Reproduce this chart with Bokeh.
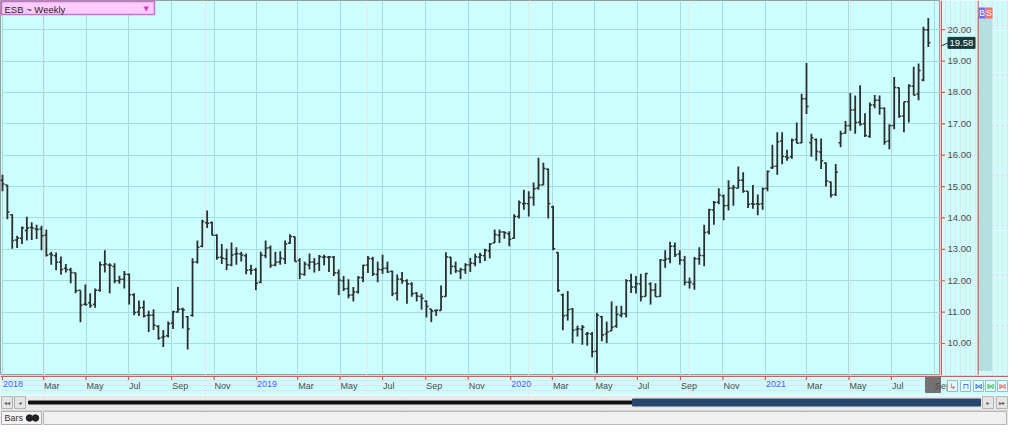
import pandas as pd
from bokeh.plotting import figure
from bokeh.models import (Range1d, FixedTicker, Label, Grid, BoxAnnotation, ColumnDataSource)
from bokeh.layouts import column, row
from bokeh.embed import file_html
from bokeh.resources import INLINE
from bokeh.core.properties import value

# ---------------- data (weekly OHLC, ESB) ----------------
first_week = "2018-01-01"
opens = [15.20,15.05,14.10,13.30,13.35,13.60,13.70,13.65,13.65,13.45,
         12.85,12.80,12.60,12.40,12.35,12.25,11.70,11.25,11.30,11.25,
         11.70,12.50,12.50,12.45,12.00,12.05,12.20,11.55,11.00,11.15,
         10.90,10.90,10.55,10.20,10.25,10.65,11.00,11.10,10.85,10.90,
         12.60,13.10,13.85,13.85,13.45,12.75,12.70,12.50,12.85,12.85,
         12.80,12.35,12.35,11.95,12.80,13.05,12.50,12.60,12.70,13.20,
         13.40,12.65,12.20,12.50,12.60,12.55,12.75,12.75,12.75,12.25,
         12.00,11.75,11.55,11.65,12.10,12.50,12.70,12.20,12.35,12.40,
         12.30,11.60,12.05,12.00,11.90,11.60,11.50,11.35,11.10,11.05,
         11.05,11.50,12.75,12.45,12.30,12.35,12.50,12.55,12.75,12.80,
         12.95,13.20,13.45,13.55,13.50,13.35,14.05,14.45,14.45,14.65,
         14.95,15.05,15.55,14.35,12.90,11.55,10.90,11.10,10.45,10.45,
         10.30,10.30,9.75,10.85,10.30,10.40,10.55,10.90,10.95,12.00,
         11.80,11.90,11.50,11.90,11.70,11.50,12.65,12.70,13.10,12.85,
         12.65,11.95,11.90,12.70,12.80,13.55,14.25,14.50,14.70,14.40,
         14.95,14.95,15.20,14.85,14.45,14.45,14.45,14.95,15.60,15.65,
         16.45,15.95,15.95,16.50,16.40,17.80,16.40,16.50,16.10,15.75,
         15.15,14.75,16.40,16.70,16.95,17.45,17.05,17.00,16.60,17.60,
         17.75,17.50,16.45,16.95,18.15,17.25,17.70,18.20,17.95,18.40,
         20.00]
highs = [15.38,15.05,14.12,13.43,13.73,14.04,13.86,13.78,13.75,13.63,
         12.92,12.90,12.77,12.53,12.41,12.26,11.70,11.88,11.60,11.75,
         12.61,12.97,12.56,12.56,12.16,12.31,12.23,11.60,11.37,11.37,
         11.04,11.09,10.58,10.43,10.70,11.04,11.80,11.14,10.88,12.72,
         13.28,13.94,14.24,13.89,13.48,13.17,13.02,13.22,13.07,12.92,
         12.87,12.51,12.41,12.92,13.28,13.12,12.92,12.94,13.28,13.48,
         13.41,12.72,12.61,12.87,12.72,12.82,12.83,12.79,12.79,12.36,
         12.15,12.05,11.80,12.15,12.51,12.79,12.76,12.61,12.83,12.61,
         12.32,12.20,12.28,12.05,11.95,11.64,11.59,11.37,11.10,11.08,
         11.85,12.91,12.76,12.61,12.41,12.56,12.73,12.86,12.89,13.02,
         13.20,13.63,13.63,13.58,13.58,14.12,14.56,14.90,14.85,15.13,
         15.92,15.76,15.58,14.39,12.91,11.59,11.67,11.13,10.57,10.59,
         10.37,10.37,10.98,10.88,10.70,11.34,11.20,11.20,12.05,12.22,
         12.15,12.22,12.25,11.95,11.92,12.69,12.97,13.24,13.22,12.97,
         12.79,12.10,12.76,13.07,13.78,14.29,14.54,14.95,14.75,15.20,
         15.05,15.64,15.46,14.85,15.05,14.75,14.97,15.51,16.33,16.73,
         16.73,16.17,16.53,17.04,17.96,18.94,16.68,16.53,16.53,15.77,
         15.16,15.72,16.78,17.09,17.98,17.90,18.23,17.34,17.68,17.92,
         17.90,17.52,16.99,18.49,18.16,17.70,18.26,18.82,18.92,20.09,
         20.37]
lows = [14.85,13.96,13.02,13.04,13.17,13.28,13.30,13.33,12.97,12.77,
        12.51,12.33,12.19,12.26,11.92,11.60,10.68,11.21,11.14,11.14,
        11.65,12.26,11.60,11.92,11.90,11.75,11.24,10.90,10.88,10.83,
        10.37,10.43,10.12,9.89,10.19,10.46,10.98,10.48,9.81,10.85,
        12.55,13.07,13.68,13.45,12.67,12.53,12.33,12.46,12.51,12.61,
        12.21,12.19,11.70,11.92,12.72,12.41,12.46,12.51,12.53,13.17,
        12.61,12.05,12.16,12.36,12.26,12.31,12.49,12.28,12.15,11.54,
        11.67,11.44,11.34,11.59,11.95,12.25,12.15,11.95,12.22,12.25,
        11.51,11.37,11.90,11.27,11.49,11.34,11.08,10.83,10.68,10.88,
        11.05,11.49,12.20,12.25,12.05,12.22,12.28,12.46,12.56,12.63,
        12.71,13.20,13.20,13.34,13.10,13.34,13.98,14.26,14.05,14.39,
        14.90,15.05,13.98,12.97,11.64,10.42,10.73,10.01,10.22,9.96,
        9.93,9.56,9.05,10.07,10.01,10.40,10.50,10.83,10.83,11.61,
        11.59,11.34,11.50,11.24,11.49,11.49,12.41,12.56,12.76,12.51,
        11.85,11.75,11.71,12.51,12.46,13.47,13.78,14.44,13.93,14.24,
        14.39,14.95,14.80,14.32,14.29,14.09,14.26,14.85,15.56,15.38,
        15.71,15.82,15.89,16.38,16.38,17.31,15.95,15.82,15.56,15.00,
        14.65,14.70,16.25,16.68,16.78,16.68,16.94,16.58,16.56,17.50,
        17.29,16.33,16.19,16.83,17.19,16.73,17.04,17.90,17.75,18.36,
        19.45]
closes = [15.08,14.19,13.28,13.36,13.68,13.68,13.68,13.63,13.43,12.82,
          12.82,12.59,12.36,12.36,12.26,11.68,11.22,11.24,11.21,11.70,
          12.51,12.53,12.49,12.00,12.05,12.21,11.55,10.99,11.14,10.88,
          10.90,10.58,10.17,10.22,10.63,11.01,11.09,11.07,10.46,12.59,
          13.07,13.89,13.83,13.45,12.74,12.72,12.51,12.82,12.87,12.82,
          12.33,12.33,11.92,12.82,13.04,12.49,12.59,12.72,13.17,13.41,
          12.61,12.21,12.53,12.59,12.53,12.77,12.76,12.76,12.25,12.02,
          11.74,11.54,11.64,12.10,12.49,12.71,12.22,12.36,12.39,12.28,
          11.59,12.05,12.00,11.90,11.59,11.51,11.44,11.18,11.03,11.06,
          11.49,12.76,12.46,12.32,12.36,12.51,12.56,12.76,12.81,12.97,
          13.17,13.47,13.55,13.53,13.32,14.05,14.49,14.46,14.65,14.93,
          15.05,15.58,14.46,13.02,11.69,10.88,11.08,10.42,10.47,10.52,
          10.32,9.74,10.90,10.27,10.37,10.52,10.93,10.95,12.00,11.80,
          11.90,11.49,12.23,11.70,11.49,12.66,12.69,13.10,12.83,12.66,
          11.95,11.95,12.70,12.81,13.54,14.26,14.49,14.73,14.39,14.95,
          14.97,15.20,14.85,14.44,14.44,14.44,14.93,15.48,15.64,16.43,
          15.97,15.92,16.48,16.38,17.80,17.55,16.56,16.12,15.82,15.18,
          14.73,15.46,16.68,16.94,17.44,17.04,16.99,16.63,17.60,17.75,
          17.50,16.43,16.94,18.16,17.24,17.70,18.21,17.92,18.70,20.00,
          19.58]
last_price = 19.58
price_ticks = [10, 11, 12, 13, 14, 15, 16, 17, 18, 19, 20]
month_ticks = ["2018-01-01", "2018-03-01", "2018-05-01", "2018-07-01", "2018-09-01", "2018-11-01",
               "2019-01-01", "2019-03-01", "2019-05-01", "2019-07-01", "2019-09-01", "2019-11-01",
               "2020-01-01", "2020-03-01", "2020-05-01", "2020-07-01", "2020-09-01", "2020-11-01",
               "2021-01-01", "2021-03-01", "2021-05-01", "2021-07-01", "2021-09-01"]
month_labels = ["2018", "Mar", "May", "Jul", "Sep", "Nov",
                "2019", "Mar", "May", "Jul", "Sep", "Nov",
                "2020", "Mar", "May", "Jul", "Sep", "Nov",
                "2021", "Mar", "May", "Jul", "Sep"]
title_text = "ESB ~ Weekly"

# ---------------- styling ----------------
BG = "#ccffff"
GRID = "#a4dede"
RED = "#f05050"
BAR = "#2e2e2e"
LABEL = "#4d4d4d"
YEAR = "#4a5cff"
FONT = "Liberation Sans"

def ms(d):
    return pd.Timestamp(d).value / 1e6

def plain(fig, bg):
    fig.background_fill_color = bg
    fig.border_fill_color = bg
    fig.outline_line_color = None
    return fig

dates = pd.date_range(first_week, periods=len(closes), freq="7D")
src = ColumnDataSource(dict(
    date=dates, left=dates - pd.Timedelta(days=3), right=dates + pd.Timedelta(days=3),
    o=opens, h=highs, l=lows, c=closes))

x_start = ms("2017-12-29 03:00")
x_end = ms("2021-09-09 12:00")
y_start, y_end = 8.98, 20.93

TOTAL_W = 1008
FRAME_W, ROW_H = 940, 375
YAX_W = 37
SIDE_W = TOTAL_W - FRAME_W - YAX_W
XAX_H, SCROLL_H, TAB_H = 20, 14, 16

px_x = FRAME_W / (x_end - x_start)
px_y = ROW_H / (y_end - y_start)

# ---------------- main price frame ----------------
p = figure(width=FRAME_W, height=ROW_H, x_range=Range1d(x_start, x_end),
           y_range=Range1d(y_start, y_end), x_axis_location=None, y_axis_location=None,
           min_border=0, toolbar_location=None, output_backend="svg")
p.background_fill_color = BG
p.border_fill_color = BG
p.outline_line_color = "#9a9a9a"
tick_ms = [ms(t) for t in month_ticks]
p.add_layout(Grid(dimension=0, ticker=FixedTicker(ticks=tick_ms), grid_line_color=GRID))
p.add_layout(Grid(dimension=1, ticker=FixedTicker(ticks=price_ticks), grid_line_color=GRID))

p.segment(x0="date", y0="l", x1="date", y1="h", source=src, line_color=BAR, line_width=1.8)
p.segment(x0="left", y0="o", x1="date", y1="o", source=src, line_color=BAR, line_width=1.5)
p.segment(x0="date", y0="c", x1="right", y1="c", source=src, line_color=BAR, line_width=1.5)

p.add_layout(BoxAnnotation(left=x_start + 1 / px_x, right=x_start + 154 / px_x,
                           top=y_end - 1 / px_y, bottom=y_end - 14 / px_y,
                           fill_color="#ffccff", fill_alpha=1.0,
                           line_color="#d16ad1", line_alpha=1.0, line_width=1.5))
p.add_layout(Label(x=x_start, y=y_end, x_offset=4, y_offset=-3, text=title_text,
                   text_align="left", text_baseline="top", text_color="#222222",
                   text_font=FONT, text_font_size="9.5px"))
p.add_layout(Label(x=x_start, y=y_end, x_offset=143, y_offset=-4, text="\u25BC",
                   text_align="left", text_baseline="top", text_color="#cc44cc",
                   text_font="DejaVu Sans", text_font_size="7px"))

# ---------------- price axis (right of frame, shares the price scale) ----------------
ya = figure(width=YAX_W, height=ROW_H, x_range=Range1d(0, YAX_W), y_range=p.y_range,
            x_axis_location=None, y_axis_location=None, min_border=0,
            toolbar_location=None, output_backend="svg")
plain(ya, BG)
ya.segment(x0=[0.75], y0=[y_start], x1=[0.75], y1=[y_end], line_color=RED, line_width=1.5)
ya.segment(x0=[0] * len(price_ticks), y0=price_ticks, x1=[4.5] * len(price_ticks),
           y1=price_ticks, line_color=RED, line_width=1.2)
ya.text(x=[7] * len(price_ticks), y=price_ticks, text=[f"{v:.2f}" for v in price_ticks],
        text_color=LABEL, text_font=value(FONT), text_font_size="9.5px",
        text_baseline="middle", text_align="left")
ya.segment(x0=[0.75], y0=[last_price - 3 / px_y], x1=[7.5], y1=[last_price], line_color="#173a3a",
           line_width=1)
ya.rect(x=[21], y=[last_price], width=27, height=11, width_units="screen",
        height_units="screen", fill_color="#173a3a", line_color="#173a3a")
ya.text(x=[9], y=[last_price], text=[f"{last_price:.2f}"], text_color="white",
        text_font=value(FONT), text_font_size="9.5px", text_baseline="middle",
        text_align="left")

# ---------------- side strip (B/S panel) ----------------
s = figure(width=SIDE_W, height=ROW_H, x_range=Range1d(0, SIDE_W), y_range=Range1d(0, ROW_H),
           x_axis_location=None, y_axis_location=None, min_border=0, toolbar_location=None,
           output_backend="svg")
plain(s, BG)
s.quad(left=[0], right=[14], bottom=[5], top=[ROW_H - 18], color="#b4e0e0")
s.quad(left=[1, 8], right=[8, 15], bottom=[ROW_H - 18] * 2, top=[ROW_H - 7] * 2,
       fill_color=["#6f6fff", "#ff6f6f"], line_color=None)
s.text(x=[1.8, 8.8], y=[ROW_H - 12.5] * 2, text=["B", "S"], text_color="white",
       text_font=value(FONT), text_font_size="8.5px", text_baseline="middle")
s.segment(x0=[0.5], y0=[0], x1=[0.5], y1=[ROW_H], line_color=RED, line_width=1.5)

# ---------------- time axis row (shares the time scale of the frame) ----------------
xax_end = x_start + TOTAL_W / px_x
xa = figure(width=TOTAL_W, height=XAX_H, x_range=Range1d(x_start, xax_end),
            y_range=Range1d(0, XAX_H), x_axis_location=None, y_axis_location=None,
            min_border=0, toolbar_location=None, output_backend="svg")
plain(xa, BG)
xa.segment(x0=[x_start], y0=[XAX_H - 0.75], x1=[xax_end], y1=[XAX_H - 0.75],
           line_color=RED, line_width=1.5)
xa.segment(x0=tick_ms, y0=[XAX_H] * len(tick_ms), x1=tick_ms, y1=[XAX_H - 4.5] * len(tick_ms),
           line_color=RED, line_width=1.2)
# cursor box under the last month
xa.quad(left=[x_end - 15 / px_x], right=[x_end], bottom=[3], top=[XAX_H - 1.5],
        color="#727272")
label_colors = [YEAR if lab.isdigit() else LABEL for lab in month_labels]
xa.text(x=tick_ms, y=[XAX_H - 5] * len(tick_ms), x_offset=0.5, text=month_labels,
        text_color=label_colors, text_font=value(FONT), text_font_size="9px",
        text_baseline="top", text_align="left")
# small tool buttons at the right end of the time axis
btn_px = [947, 960, 973, 985, 997]
btn_left = [x_start + b / px_x for b in btn_px]
btn_right = [x_start + (b + 10) / px_x for b in btn_px]
btn_mid = [x_start + (b + 5) / px_x for b in btn_px]
xa.quad(left=btn_left, right=btn_right, bottom=[4] * 5, top=[15] * 5,
        fill_color="#dcffff", line_color="#a0b8c0")
xa.text(x=btn_mid, y=[9.5] * 5, text=["\u21B3", "\u2293", "\u22C8", "\u22C8", "\u22C8"],
        text_color=["#ff4040", "#3050ff", "#3050ff", "#30b030", "#ff4040"],
        text_font=value("DejaVu Sans"), text_font_size="8px", text_align="center",
        text_baseline="middle")

# ---------------- scrollbar row ----------------
sc = figure(width=TOTAL_W, height=SCROLL_H, x_range=Range1d(0, TOTAL_W), y_range=Range1d(0, SCROLL_H),
            x_axis_location=None, y_axis_location=None, min_border=0, toolbar_location=None,
            output_backend="svg")
plain(sc, "#ededed")
sc.quad(left=[1, 14, 982, 996], right=[12, 25, 993, 1007], bottom=[1] * 4, top=[13] * 4,
        fill_color="#e4e4e4", line_color="#b4b4b4")
sc.text(x=[6.5, 19.5, 987.5, 1001.5], y=[7] * 4,
        text=["\u25C2\u25C2", "\u25C2", "\u25B8", "\u25B8\u25B8"],
        text_color="#555555", text_font=value("DejaVu Sans"), text_font_size="6px",
        text_align="center", text_baseline="middle")
sc.quad(left=[28], right=[634], bottom=[5.5], top=[8.5], color="#111111")
sc.quad(left=[632], right=[980], bottom=[3.5], top=[10.5], color="#26486e")

# ---------------- tab row ----------------
tb = figure(width=TOTAL_W, height=TAB_H, x_range=Range1d(0, TOTAL_W), y_range=Range1d(0, TAB_H),
            x_axis_location=None, y_axis_location=None, min_border=0, toolbar_location=None,
            output_backend="svg")
plain(tb, "#e6e6e6")
tb.segment(x0=[0], y0=[15.5], x1=[TOTAL_W], y1=[15.5], line_color="#c8c8c8", line_width=1)
tb.quad(left=[1], right=[41], bottom=[1], top=[14], fill_color="#f5f5f5", line_color="#b0b0b0")
tb.quad(left=[43], right=[1006], bottom=[1], top=[14], fill_color="#f0f0f0", line_color="#b8b8b8")
tb.text(x=[4], y=[7.5], text=["Bars"], text_color="#333333", text_font=value(FONT),
        text_font_size="9px", text_baseline="middle")
tb.scatter(x=[29, 35], y=[7.5, 7.5], size=6.5, color="#222222")

layout = column(row(p, ya, s), xa, sc, tb)
open("out.html", "w").write(file_html(layout, INLINE))
